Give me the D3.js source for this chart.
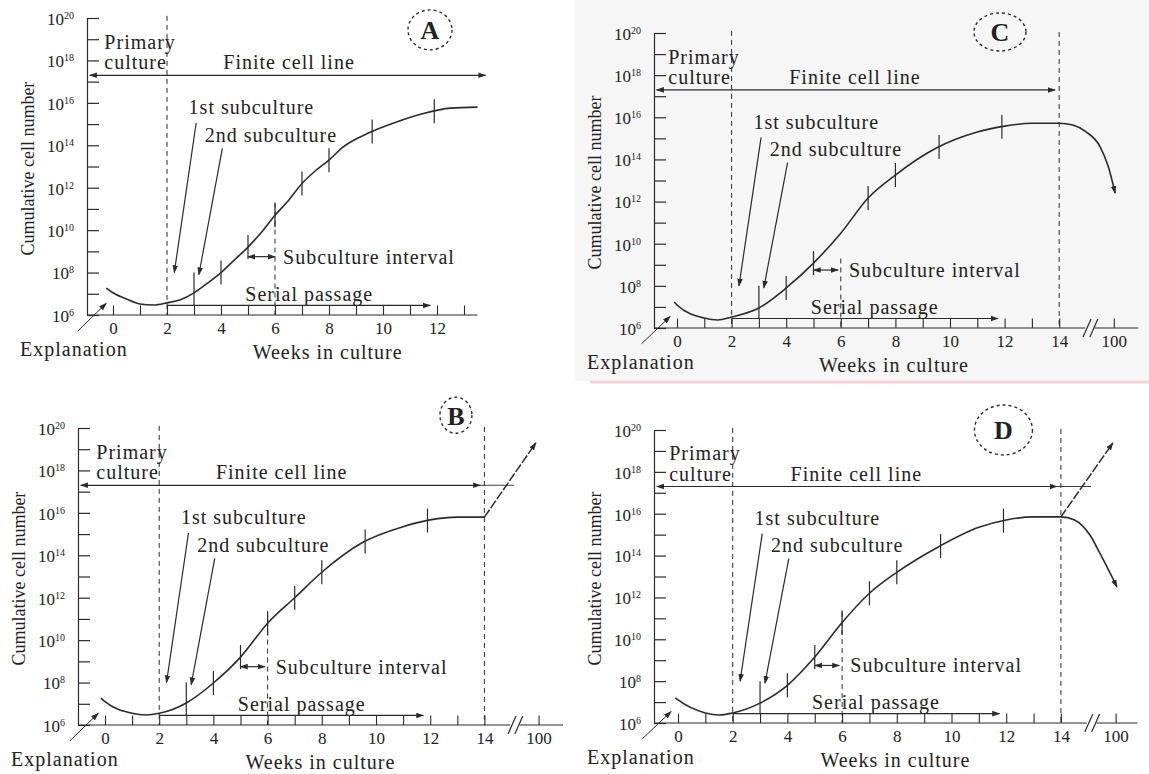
<!DOCTYPE html>
<meta charset="utf-8">
<title>Finite cell line growth</title>
<style>
  body { margin: 0; background: #fff; }
</style>
<svg id="viz" width="1149" height="774"></svg>
<script src="https://cdnjs.cloudflare.com/ajax/libs/d3/7.8.5/d3.min.js"></script>
<script>

// [week, log10(cumulative cells)]
var curveA = [[-0.25,7.27],[0,7.05],[0.5,6.75],[1,6.52],[1.5,6.47],[2,6.57],[2.5,6.72],[3,7.04],[3.5,7.5],[4,8.0],[4.5,8.6],[5,9.2],[5.5,9.9],[6,10.7],[6.5,11.4],[7,12.2],[7.5,12.8],[8,13.3],[8.5,13.9],[9.5,14.6],[10.5,15.1],[11.5,15.5],[12.5,15.75],[13.5,15.8]];
var curveB = [[-0.15,7.27],[0,7.1],[1,6.55],[1.5,6.47],[2,6.55],[3,7.04],[4,7.98],[5,9.2],[6,10.8],[7,12.0],[8,13.2],[9.5,14.6],[11,15.35],[12,15.67],[13,15.8],[14,15.8]];
// x past 14 is the slot on the broken axis; slot 16 is labelled 100
var curveC = [[-0.1,7.23],[0,7.09],[1,6.47],[1.5,6.38],[2,6.52],[3,6.95],[4,7.9],[5,9.08],[6,10.5],[7,12.17],[8,13.26],[9.5,14.54],[11,15.3],[12,15.58],[13,15.72],[14,15.72],[14.5,15.63],[15,15.3],[15.5,14.6],[15.8,13.65],[16.05,12.4]];
var curveD = [[-0.1,7.2],[0,7.1],[1,6.48],[1.5,6.38],[2,6.48],[3,6.95],[4,7.8],[5,9.15],[6,10.8],[7,12.2],[8,13.2],[9.5,14.4],[11,15.35],[12,15.7],[13,15.85],[14,15.85],[14.5,15.7],[15.06,14.98],[15.43,14.1],[16.05,12.5]];
var riseB = [[14,15.8],[15.9,19.3]];
var riseD = [[14,15.85],[15.9,19.38]];

var decades = d3.range(6, 21);
var decadeLabels = [6, 8, 10, 12, 14, 16, 18, 20];
var weekTicksA = [0, 2, 4, 6, 8, 10, 12];
var weekLabelsA = ["0", "2", "4", "6", "8", "10", "12"];
var weekTicks = [0, 2, 4, 6, 8, 10, 12, 14, 16];
var weekLabels = ["0", "2", "4", "6", "8", "10", "12", "14", "100"];
var subsA = [4, 5, 6, 7, 8, 9.6, 11.9];
var subsC = [4, 5, 7, 8, 9.6, 11.9];
var subsBD = [4, 5, 6, 7, 8, 9.6, 11.9];
var serialLevel = 6.45;

var ink = "#2b2b2b";
var serif = "'Liberation Serif', 'Times New Roman', Tinos, serif";
var svg = d3.select("#viz");

var defs = svg.append("defs");
defs.append("marker").attr("id", "arr")
  .attr("viewBox", "0 0 10 10").attr("refX", 9).attr("refY", 5)
  .attr("markerWidth", 8).attr("markerHeight", 8)
  .attr("markerUnits", "userSpaceOnUse").attr("orient", "auto-start-reverse")
  .append("path").attr("d", "M0,1.5L10,5L0,8.5Z").attr("fill", ink);

// scan background bits
svg.append("rect").attr("x", 575).attr("y", 0).attr("width", 574).attr("height", 381).attr("fill", "#f6f6f6");
svg.append("line").attr("x1", 590).attr("x2", 1149).attr("y1", 382).attr("y2", 382)
  .attr("stroke", "#f3d3da").attr("stroke-width", 3);

var panels = [
  {id: "A", axisX: 87, axisY: 315, topY: 18, x0: 113, w: 27.0, end: 13.5, broken: false,
   curve: curveA, subs: subsA, ticks: weekTicksA, labels: weekLabelsA, ladder: d3.range(0, 14),
   dash6: 11.3, finEnd: 13.8, ext: null, circle: [11.74, 19.44, 22, 20]},
  {id: "B", axisX: 78, axisY: 725, topY: 428, x0: 105, w: 27.1, end: 16.9, broken: true,
   curve: curveB, rise: riseB, subs: subsBD, ticks: weekTicks, labels: weekLabels, ladder: d3.range(0, 15).concat([16]),
   dash6: 11.3, finEnd: 13.85, ext: 15.1, circle: [12.95, 20.6, 16, 18]},
  {id: "C", axisX: 654, axisY: 328, topY: 33, x0: 677, w: 27.3, end: 16.9, broken: true,
   curve: curveC, subs: subsC, ticks: weekTicks, labels: weekLabels, ladder: d3.range(0, 15).concat([16]),
   dash6: 9.3, finEnd: 13.85, ext: null, circle: [11.83, 20.05, 26, 19]},
  {id: "D", axisX: 654, axisY: 723, topY: 430, x0: 678, w: 27.35, end: 16.8, broken: true,
   curve: curveD, rise: riseD, subs: subsBD, ticks: weekTicks, labels: weekLabels, ladder: d3.range(0, 15).concat([16]),
   dash6: 11.3, finEnd: 13.85, ext: 15.1, circle: [11.9, 20.0, 29, 25]}
];

panels.forEach(drawPanel);
svg.selectAll("text").style("font-family", serif).style("fill", "#222");

function drawPanel(p) {
  var g = svg.append("g").attr("class", "panel-" + p.id);
  var x = d3.scaleLinear().domain([0, 14]).range([p.x0, p.x0 + 14 * p.w]);
  var y = d3.scaleLog().domain([1e6, 1e20]).range([p.axisY, p.topY]);
  var Y = function(e) { return y(Math.pow(10, e)); };
  var line = d3.line().x(function(d) { return x(d[0]); }).y(function(d) { return Y(d[1]); });
  var smooth = d3.line().x(function(d) { return x(d[0]); }).y(function(d) { return Y(d[1]); })
    .curve(d3.curveMonotoneX);
  var onCurve = d3.scaleLinear().domain(p.curve.map(function(d) { return d[0]; }))
    .range(p.curve.map(function(d) { return d[1]; }));
  var serialY = Y(serialLevel);

  function seg(a, b, dash, marker) {
    var l = g.append("path").attr("d", line([a, b])).attr("fill", "none")
      .attr("stroke", ink).attr("stroke-width", 1.2);
    if (dash) l.attr("stroke-dasharray", "5,4").attr("stroke-width", 1);
    if (marker === "end" || marker === "both") l.attr("marker-end", "url(#arr)");
    if (marker === "both") l.attr("marker-start", "url(#arr)");
    return l;
  }

  // y axis
  g.append("g").attr("transform", "translate(" + p.axisX + ",0)")
    .call(d3.axisRight(y).tickValues(decades.map(function(e) { return Math.pow(10, e); }))
      .tickSize(12).tickSizeOuter(0).tickFormat(""))
    .call(function(a) { a.selectAll("path,line").attr("stroke", ink).attr("stroke-width", 1.2); });

  var lab = g.selectAll(".ylab").data(decadeLabels).join("text").attr("class", "ylab")
    .attr("x", p.axisX - 13).attr("y", function(e) { return Y(e); }).attr("dy", "0.4em")
    .attr("text-anchor", "end").attr("font-size", 17);
  lab.append("tspan").text("10");
  lab.append("tspan").attr("dy", "-0.6em").attr("font-size", 10).text(function(e) { return e; });

  // x axis: ladder ticks up to the serial passage line, labels below
  g.append("g").attr("transform", "translate(0," + p.axisY + ")")
    .call(d3.axisTop(x).tickValues(p.ladder).tickSize(p.axisY - serialY).tickFormat(""))
    .call(function(a) {
      a.select(".domain").remove();
      a.selectAll("line").attr("stroke", ink).attr("stroke-width", 1.1);
    });
  g.append("g").attr("transform", "translate(0," + p.axisY + ")")
    .call(d3.axisBottom(x).tickValues(p.ticks).tickSize(0).tickPadding(7)
      .tickFormat(function(d, i) { return p.labels[i]; }))
    .call(function(a) {
      a.select(".domain").remove();
      a.attr("font-family", null).attr("font-size", null);
      a.selectAll("text").attr("font-size", 17);
    });

  var xStart = (p.axisX - p.x0) / p.w;
  if (p.broken) {
    seg([xStart, 6], [14.95, 6]);
    seg([15.3, 6], [p.end, 6]);
    [15.02, 15.27].forEach(function(t) {
      g.append("line").attr("x1", x(t) - 4).attr("x2", x(t) + 4)
        .attr("y1", p.axisY + 9).attr("y2", p.axisY - 9)
        .attr("stroke", ink).attr("stroke-width", 1.2);
    });
  } else {
    seg([xStart, 6], [p.end, 6]);
  }

  // dashed phase boundaries
  seg([2, 20.1], [2, 6], true);
  if (p.broken) seg([14, 20.05], [14, 6], true);
  seg([6, p.dash6], [6, 6], true);

  // growth curve
  g.append("path").attr("d", smooth(p.curve)).attr("fill", "none")
    .attr("stroke", ink).attr("stroke-width", 1.6)
    .attr("marker-end", p.id === "C" || p.id === "D" ? "url(#arr)" : null);
  if (p.rise) {
    g.append("path").attr("d", line(p.rise)).attr("fill", "none")
      .attr("stroke", ink).attr("stroke-width", 1.5).attr("stroke-dasharray", "9,2")
      .attr("marker-end", "url(#arr)");
  }

  // subculture marks
  p.subs.forEach(function(t) {
    var cy = Y(onCurve(t));
    g.append("line").attr("x1", x(t)).attr("x2", x(t)).attr("y1", cy - 12).attr("y2", cy + 12)
      .attr("stroke", ink).attr("stroke-width", 1.2);
  });
  seg([3, 8.0], [3, serialLevel]);

  // phases
  seg([xStart + 0.1, 17.3], [p.finEnd, 17.3], false, "both");
  if (p.ext) seg([p.finEnd, 17.3], [p.ext, 17.3]).attr("stroke-width", 0.9);

  function label(t, e, txt, anchor) {
    return g.append("text").attr("x", x(t)).attr("y", Y(e)).attr("dy", "0.35em")
      .attr("text-anchor", anchor || "start").attr("font-size", 20)
      .attr("letter-spacing", 1).text(txt);
  }
  label(-0.32, 18.88, "Primary");
  label(-0.32, 17.92, "culture");
  label(6.52, 17.92, "Finite cell line", "middle");
  label(2.8, 15.8, "1st subculture");
  label(3.4, 14.5, "2nd subculture");
  seg([3.08, 15.05], [2.27, 8.0], false, "end");
  seg([4.05, 13.85], [3.18, 7.9], false, "end");
  label(6.3, 8.75, "Subculture interval");
  seg([5, 8.75], [p.id === "A" ? 6 : 5.9, 8.75], false, "both");
  label(4.9, 7.0, "Serial passage");
  seg([2, serialLevel], [11.75, serialLevel], false, "end");

  seg([-1.3, 5.25], [-0.25, 6.55], false, "end").attr("stroke-width", 1);
  g.append("text").attr("x", p.axisX - 67).attr("y", p.axisY + 34).attr("dy", "0.35em")
    .attr("font-size", 20).attr("letter-spacing", 1).text("Explanation");
  g.append("text").attr("x", x(7.95)).attr("y", p.axisY + 37).attr("dy", "0.35em")
    .attr("text-anchor", "middle").attr("font-size", 20).attr("letter-spacing", 1)
    .text("Weeks in culture");
  g.append("text").attr("transform", "translate(" + (p.axisX - 59) + "," + Y(12.9) + ") rotate(-90)")
    .attr("dy", "0.35em").attr("text-anchor", "middle").attr("font-size", 18)
    .text("Cumulative cell number");

  // panel letter
  var c = p.circle;
  g.append("ellipse").attr("cx", x(c[0])).attr("cy", Y(c[1])).attr("rx", c[2]).attr("ry", c[3])
    .attr("fill", "none").attr("stroke", ink).attr("stroke-width", 1.4).attr("stroke-dasharray", "3,3");
  g.append("text").attr("x", x(c[0])).attr("y", Y(c[1])).attr("dy", "0.36em")
    .attr("text-anchor", "middle").attr("font-size", 26).attr("font-weight", "bold").text(p.id);
}

</script>
